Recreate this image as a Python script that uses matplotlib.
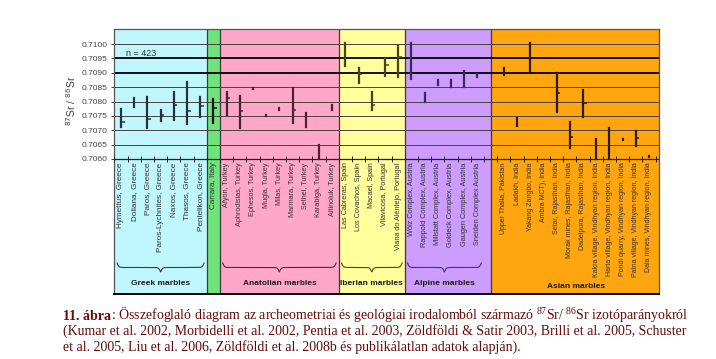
import numpy as np
import matplotlib
matplotlib.use('Agg')
import matplotlib.pyplot as plt

plt.rcParams['font.family'] = ['Liberation Sans', 'DejaVu Sans']
plt.rcParams['mathtext.rm'] = 'Liberation Serif'
plt.rcParams['mathtext.it'] = 'Liberation Serif:italic'
plt.rcParams['mathtext.bf'] = 'Liberation Serif:bold'

# --- data (87Sr/86Sr ranges, nan = no mean mark) ---
greek = ['Hymettus, Greece', 'Doliana, Greece', 'Paros, Greece', 'Paros-Lychnites, Greece',
         'Naxos, Greece', 'Thasos, Greece', 'Pentelikon, Greece']
greek_lo = [0.70712, 0.70780, 0.70709, 0.70733, 0.70735, 0.70723, 0.70747]
greek_hi = [0.70774, 0.70811, 0.70817, 0.70770, 0.70832, 0.70869, 0.70815]
greek_mean = [0.70730, np.nan, 0.70739, 0.70753, 0.70788, 0.70767, 0.70785]

italy = ['Carrara, Italy']
italy_lo = [0.70726]
italy_hi = [0.70808]
italy_mean = [0.70778]

anatolia = ['Afyon, Turkey', 'Aphrodisias, Turkey', 'Ephesos, Turkey', 'Mugla, Turkey',
            'Milas, Turkey', 'Marmara, Turkey', 'Sethel, Turkey', 'Karabiga, Turkey',
            'Altinoluk, Turkey']
anatolia_lo = [0.70753, 0.70709, 0.70842, 0.70749, 0.70770, 0.70724, 0.70712, 0.70600, 0.70772]
anatolia_hi = [0.70834, 0.70819, 0.70848, 0.70753, 0.70776, 0.70848, 0.70759, 0.70648, 0.70788]
anatolia_mean = [0.70813, 0.70767, np.nan, np.nan, np.nan, 0.70769, np.nan, np.nan, np.nan]

iberia = ['Las Cabreras, Spain', 'Los Covachos, Spain', 'Macael, Spain',
          'Vilavicosa, Portugal', 'Viana do Alentejo, Portugal']
iberia_lo = [0.70925, 0.70863, 0.70770, 0.70889, 0.70884]
iberia_hi = [0.71005, 0.70918, 0.70832, 0.70950, 0.70993]
iberia_mean = [np.nan, 0.70896, 0.70787, 0.70926, 0.70956]

alpine = ['Wölz Complex, Austria', 'Rappold Complex, Austria', 'Millstatt Complex, Austria',
          'Goldeck Complex, Austria', 'Gaugen Complex, Austria', 'Sneiden Complex Austria']
alpine_lo = [0.70879, 0.70798, 0.70858, 0.70851, 0.70850, 0.70884]
alpine_hi = [0.71005, 0.70831, 0.70875, 0.70875, 0.70907, 0.70895]
alpine_mean = [np.nan] * 6

asia = ['Upper Thalia, Pakistan', 'Ladakh, India', 'Yakang Zangbo, India', 'Ambra MCT), India',
        'Setar, Rajasthan, India', 'Morak mines, Rajasthan, India', 'Dadelpura, Rajasthan, India',
        'Kakra village, Vindhyan region, India', 'Harta village, Vindhyan region, India',
        'Pondi quarry, Vindhyan region, India', 'Patna village, Vindhyan region, India',
        'Dala mines, Vindhyan region, India']
asia_lo = [0.70891, 0.70715, 0.70907, np.nan, 0.70763, 0.70637, 0.70745, 0.70600, 0.70600,
           0.70666, 0.70645, 0.70606]
asia_hi = [0.70918, 0.70744, 0.71005, np.nan, 0.70900, 0.70729, 0.70840, 0.70670, 0.70708,
           0.70670, 0.70697, 0.70612]
asia_mean = [np.nan, np.nan, np.nan, np.nan, 0.70831, 0.70677, 0.70796, np.nan, np.nan,
             np.nan, 0.70674, np.nan]

group_titles = ['Greek marbles', '', 'Anatolian marbles', 'Iberian marbles',
                'Alpine marbles', 'Asian marbles']
yticks = [0.7060, 0.7065, 0.7070, 0.7075, 0.7080, 0.7085, 0.7090, 0.7095, 0.7100]
n_total = 423

groups = [
    (greek, greek_lo, greek_hi, greek_mean),
    (italy, italy_lo, italy_hi, italy_mean),
    (anatolia, anatolia_lo, anatolia_hi, anatolia_mean),
    (iberia, iberia_lo, iberia_hi, iberia_mean),
    (alpine, alpine_lo, alpine_hi, alpine_mean),
    (asia, asia_lo, asia_hi, asia_mean),
]

# --- styling ---
bg_colors = ['#c0f7ff', '#6fe27c', '#ffa6c9', '#ffff9c', '#cc9cff', '#ffa510']
bar_colors = ['#27323f', '#151515', '#4a2236', '#45451c', '#3c2a55', '#2e1a00']
brace_colors = ['#2c3e55', None, '#4a2a38', '#4a4a25', '#4a3070', None]
label_sizes = [5.9, 5.9, 5.2, 5.2, 5.3, 5.05]
gap_after = [0, 0, 0, 0, 1, 0]
text_col = '#333333'


def brace(ax, x0, x1, ytop, depth, color):
    xs = np.linspace(x0, x1, 401)
    half = (x1 - x0) / 2
    b = 14.0
    t = np.where(xs <= x0 + half, xs - x0, x1 - xs)
    y = 1 / (1 + np.exp(-b * t)) + 1 / (1 + np.exp(-b * (t - half)))
    ax.plot(xs, ytop - (y - 0.5) * depth, color=color, lw=0.8, clip_on=False)


fig = plt.figure(figsize=(7.16, 3.59), dpi=100)
ax = fig.add_axes([114 / 716, 1 - 294 / 359, (659 - 114) / 716, (294 - 29) / 359])
xmin, xmax = -0.53, 40.76
ymin, ymax = 0.701304, 0.710522
ax.set_xlim(xmin, xmax)
ax.set_ylim(ymin, ymax)

# category positions
positions = []
pos = 0
for (names, lo, hi, mean), gap in zip(groups, gap_after):
    xs = np.arange(pos, pos + len(names), dtype=float)
    positions.append(xs)
    pos += len(names) + gap

# group boundaries
edges = [xmin]
for a, b in zip(positions[:-1], positions[1:]):
    edges.append((a[-1] + b[0]) / 2)
edges.append(xmax)

for i, col in enumerate(bg_colors):
    ax.axvspan(edges[i], edges[i + 1], color=col, zorder=0, lw=0)
for e in edges[1:-1]:
    ax.axvline(e, color='#3a3a3a', lw=0.9, zorder=1)

# horizontal reference lines
for v in yticks[1:]:
    thick = v in (0.7090, 0.7095)
    ax.hlines(v, xmin, xmax, colors='#000000' if thick else '#4a4040',
              lw=1.3 if thick else 0.7, zorder=2)
ax.hlines(yticks[0], xmin, xmax, colors='#222222', lw=0.9, zorder=2)

# category tick marks on the baseline
ticks = np.concatenate([np.concatenate([xs - 0.5, xs[-1:] + 0.5]) for xs in positions])
ax.vlines(ticks, yticks[0] - 0.0001, yticks[0] + 0.0001, colors='#222222', lw=0.7, zorder=3)

# range bars and means
for (names, lo, hi, mean), xs, bc, fs in zip(groups, positions, bar_colors, label_sizes):
    lo = np.array(lo, dtype=float)
    hi = np.array(hi, dtype=float)
    ok = ~np.isnan(lo)
    lc = ax.vlines(xs[ok], lo[ok], hi[ok], colors=bc, lw=1.6, zorder=4)
    lc.set_capstyle('projecting')
    ax.plot(xs + 0.12, mean, ls='none', marker='_', ms=3, mew=1.1, color=bc, zorder=5)
    for x, name in zip(xs, names):
        ax.text(x, yticks[0] - 0.00012, name, rotation=90, ha='center', va='top',
                fontsize=fs, color=text_col)

# braces and group titles
for (names, lo, hi, mean), xs, title, bcol in zip(groups, positions, group_titles, brace_colors):
    if bcol is not None:
        brace(ax, xs[0] - 0.3, xs[-1] + 0.3, 0.702383, 0.000313, bcol)
    if title:
        ty = 0.701558 if title == 'Asian marbles' else 0.701652
        ax.text((xs[0] + xs[-1]) / 2, ty, title, ha='center', va='center',
                fontsize=6, fontweight='bold', color='#1a1a1a')

ax.text(0.38, 0.70967, f'n = {n_total}', fontsize=6.5, va='center', ha='left', color=text_col)

# axes styling
ax.set_xticks([])
ax.set_yticks(yticks)
ax.set_yticklabels([f'{v:.4f}' for v in yticks])
ax.tick_params(axis='y', direction='inout', length=4, width=0.7, colors='#444444',
               labelsize=6, pad=2.5)
for s in ['left', 'top', 'right']:
    ax.spines[s].set_color('#555555')
    ax.spines[s].set_linewidth(0.9)
ax.spines['bottom'].set_color('#000000')
ax.spines['bottom'].set_linewidth(1.4)

fig.text(71 / 716, 1 - 101 / 359, r'$^{87}$Sr / $^{86}$Sr', rotation=90, ha='center',
         va='center', fontsize=7.5, color='#444444', math_fontfamily='dejavusans')

# caption
cap_col = '#640a0a'
cap_font = 'Liberation Serif'
cap_size = 10
x0 = 63 / 716
t1 = fig.text(x0, 1 - 319.5 / 359, '11. ábra', fontsize=cap_size, family=cap_font,
              fontweight='bold', color=cap_col, va='baseline')
fig.canvas.draw()
bb = t1.get_window_extent()
fig.text(bb.x1 / fig.bbox.width, 1 - 319.5 / 359,
         ': Összefoglaló diagram az archeometriai és geológiai irodalomból származó '
         r'$^{87}$Sr/ $^{86}$Sr izotóparányokról',
         fontsize=cap_size, family=cap_font, color=cap_col, va='baseline',
         math_fontfamily='custom')
fig.text(x0, 1 - 335 / 359,
         '(Kumar et al. 2002, Morbidelli et al. 2002, Pentia et al. 2003, Zöldföldi & Satir 2003, '
         'Brilli et al. 2005, Schuster',
         fontsize=cap_size, family=cap_font, color=cap_col, va='baseline')
fig.text(x0, 1 - 350.5 / 359,
         'et al. 2005, Liu et al. 2006, Zöldföldi et al. 2008b és publikálatlan adatok alapján).',
         fontsize=cap_size, family=cap_font, color=cap_col, va='baseline')

fig.savefig('out.png', dpi=100)
